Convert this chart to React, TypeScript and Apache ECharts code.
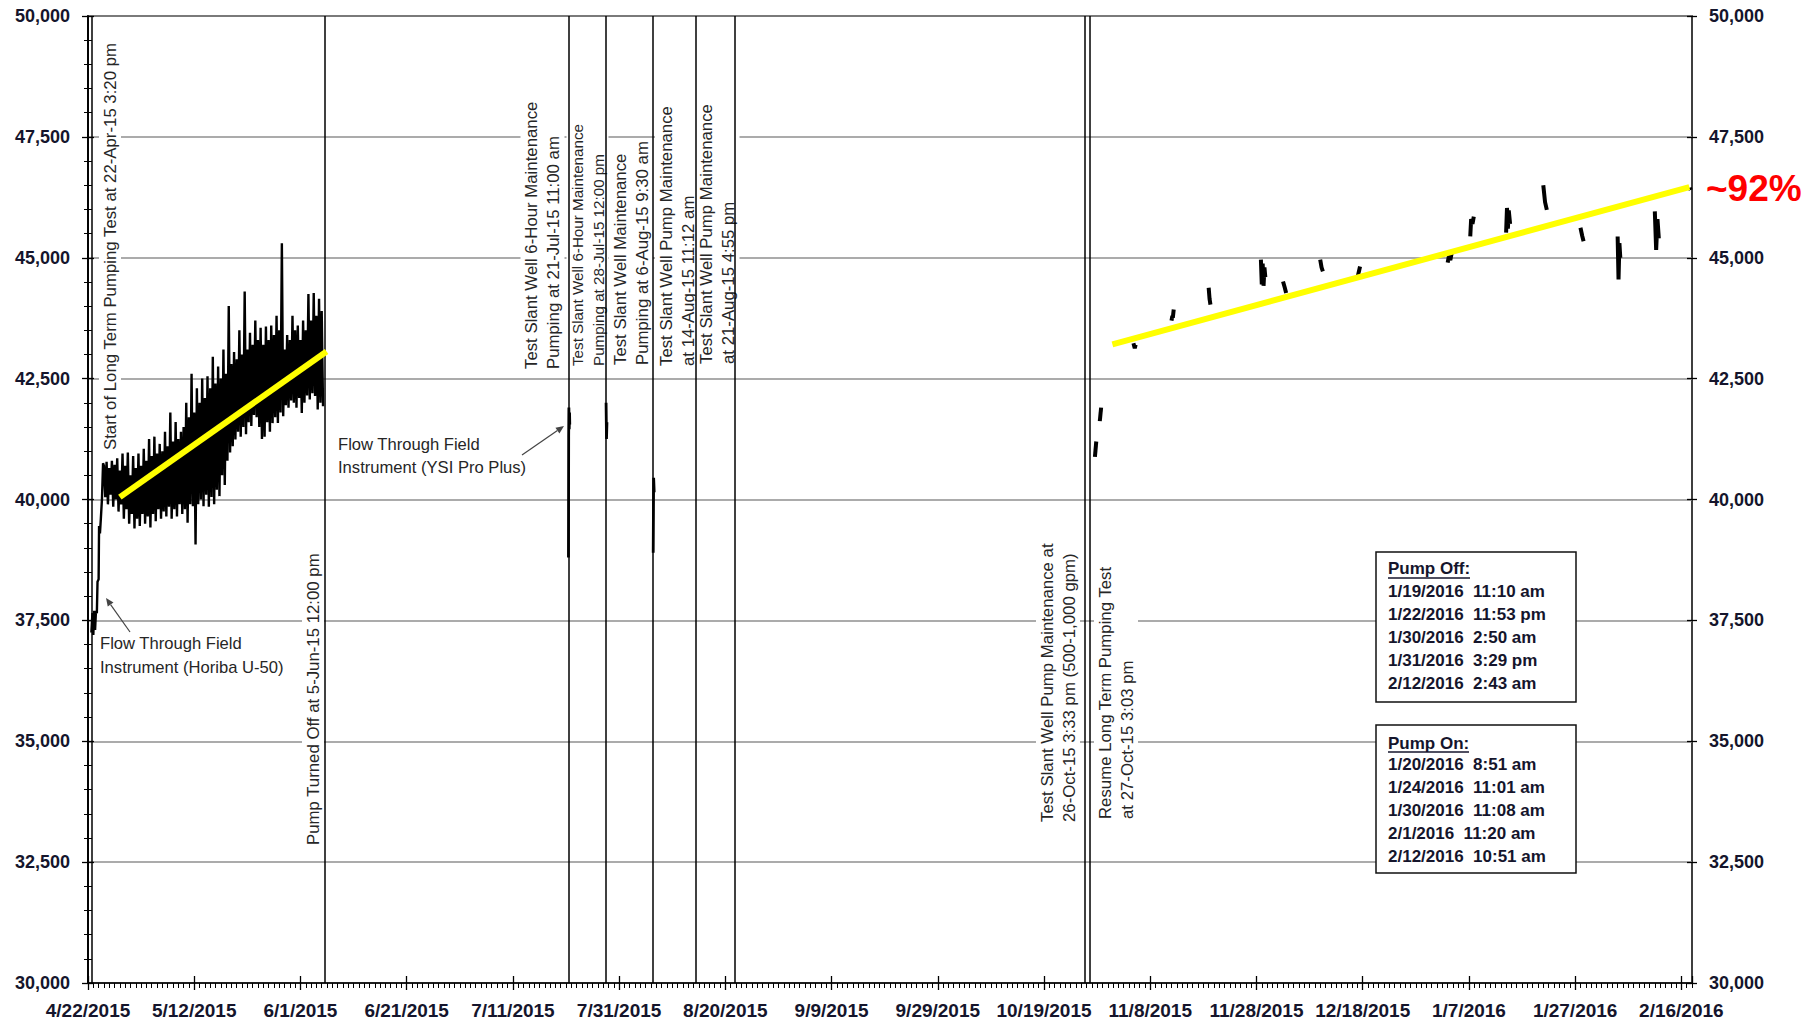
import React, { useEffect, useRef } from 'react';
import * as echarts from 'echarts';

// ---------------- data ----------------
const ORIGIN = '2015-04-22 00:00';
const X_MAX_DAYS = 302;
const X_MAJOR_DAYS = 20;
const Y_MIN = 30000;
const Y_MAX = 50000;
const Y_STEP = 2500;

const EVENT_TIMES = [
  '2015-04-22 15:20',
  '2015-06-05 12:00',
  '2015-07-21 11:00',
  '2015-07-28 12:00',
  '2015-08-06 09:30',
  '2015-08-14 11:12',
  '2015-08-21 16:55',
  '2015-10-26 15:33',
  '2015-10-27 15:03',
];

const STARTUP: [string, number][] = [
  ['2015-04-22 15:20', 37250],
  ['2015-04-22 20:00', 37650],
  ['2015-04-23 00:00', 37200],
  ['2015-04-23 04:00', 37700],
  ['2015-04-23 08:00', 37300],
  ['2015-04-23 12:00', 37700],
  ['2015-04-23 16:00', 37650],
  ['2015-04-23 19:00', 38300],
  ['2015-04-24 00:00', 38350],
  ['2015-04-24 02:00', 39450],
  ['2015-04-24 06:00', 39300],
  ['2015-04-24 10:00', 39600],
  ['2015-04-24 15:00', 40000],
  ['2015-04-24 20:00', 40750],
];

const BAND_START = '2015-04-25 00:00';
const BAND_STEP_DAYS = 0.5;
const BAND_HIGH = [
  40700, 40780, 40650, 40800, 40720, 40850, 40600, 40950, 40700, 40970,
  40500, 40900, 40650, 40950, 40700, 41050, 40800, 41250, 40900, 41300,
  40950, 41150, 41000, 41400, 41100, 41800, 41200, 41600, 41250, 41400,
  41500, 42000, 41700, 42600, 41800, 42300, 42000, 42500, 42100, 42550,
  42300, 42950, 42400, 42750, 42500, 43100, 42600, 44000, 42800, 43050,
  42900, 43500, 43000, 44300, 43100, 43450, 43200, 43700, 43300, 43550,
  43200, 43580, 43300, 43600, 43400, 43800, 43500, 45300, 43100, 43400,
  43300, 43800, 43500, 43600, 43300, 43700, 43500, 44250, 43700, 44270,
  43800, 44150, 43900,
];
const BAND_LOW = [
  40050, 39900, 40100, 39850, 40000, 39750, 39900, 39600, 39800, 39500,
  39700, 39400, 39600, 39450, 39700, 39500, 39650, 39420, 39700, 39550,
  39800, 39600, 39750, 39650, 39850, 39600, 39800, 39650, 39900, 39700,
  39800, 39520, 39900, 39860, 39070, 39900, 40000, 39860, 40100, 39850,
  40050, 39900, 40200, 40070, 40500, 40300, 40800, 40970, 41100, 41240,
  41400, 41300, 41500, 41350, 41600, 41520, 41750, 41700, 41500, 41250,
  41300, 41600, 41400, 41580, 41700, 41580, 41800, 41720, 41950, 41900,
  42050, 42000, 41900, 42100, 41790, 42000, 42150, 42070, 42200, 42140,
  41860, 42000, 41930,
];

const MID_SEGMENTS: [string, number][][] = [
  [['2015-07-21 11:00', 38800], ['2015-07-21 12:00', 41300], ['2015-07-21 13:00', 41900], ['2015-07-21 14:30', 41450], ['2015-07-21 16:00', 41800], ['2015-07-21 17:00', 41550]],
  [['2015-07-28 13:00', 42000], ['2015-07-28 15:00', 41250], ['2015-07-28 17:00', 41600]],
  [['2015-08-06 10:00', 38900], ['2015-08-06 12:00', 40450], ['2015-08-06 14:30', 40150]],
];

const LATE_SEGMENTS: [string, number][][] = [
  [['2015-10-28 14:00', 40880], ['2015-10-28 20:00', 41200]],
  [['2015-10-29 12:00', 41620], ['2015-10-29 18:00', 41900]],
  [['2015-11-04 20:00', 43230], ['2015-11-05 02:00', 43130], ['2015-11-05 06:00', 43200]],
  [['2015-11-12 00:00', 43700], ['2015-11-12 04:00', 43800], ['2015-11-12 06:00', 43760], ['2015-11-12 10:00', 43930]],
  [['2015-11-19 00:00', 44380], ['2015-11-19 04:00', 44150], ['2015-11-19 08:00', 44030]],
  [['2015-11-28 20:00', 44960], ['2015-11-29 00:00', 44450], ['2015-11-29 04:00', 44880], ['2015-11-29 08:00', 44420], ['2015-11-29 12:00', 44800], ['2015-11-29 16:00', 44600]],
  [['2015-12-03 00:00', 44510], ['2015-12-03 08:00', 44380], ['2015-12-03 14:00', 44270]],
  [['2015-12-10 00:00', 44960], ['2015-12-10 06:00', 44800], ['2015-12-10 12:00', 44720]],
  [['2015-12-17 00:00', 44580], ['2015-12-17 06:00', 44700], ['2015-12-17 12:00', 44820]],
  [['2016-01-03 00:00', 44900], ['2016-01-03 06:00', 45050], ['2016-01-03 12:00', 44950], ['2016-01-03 18:00', 45100]],
  [['2016-01-07 06:00', 45440], ['2016-01-07 10:00', 45800], ['2016-01-07 16:00', 45700], ['2016-01-07 22:00', 45850]],
  [['2016-01-14 00:00', 45520], ['2016-01-14 04:00', 46030], ['2016-01-14 08:00', 45600], ['2016-01-14 12:00', 45980], ['2016-01-14 18:00', 45700]],
  [['2016-01-21 00:00', 46500], ['2016-01-21 08:00', 46150], ['2016-01-21 16:00', 45990]],
  [['2016-01-28 00:00', 45620], ['2016-01-28 08:00', 45450], ['2016-01-28 14:00', 45340]],
  [['2016-02-04 00:00', 45440], ['2016-02-04 04:00', 44550], ['2016-02-04 08:00', 45300], ['2016-02-04 12:00', 45000]],
  [['2016-02-11 00:00', 45960], ['2016-02-11 06:00', 45160], ['2016-02-11 12:00', 45800], ['2016-02-11 18:00', 45400]],
  [['2016-02-17 14:00', 46450], ['2016-02-17 18:00', 46400]],
];

const TREND_1: [string, number][] = [['2015-04-28 00:00', 40050], ['2015-06-05 22:00', 43060]];
const TREND_2: [string, number][] = [['2015-10-31 21:00', 43210], ['2016-02-17 12:00', 46460]];

const PUMP_OFF_TIMES = ['1/19/2016  11:10 am', '1/22/2016  11:53 pm', '1/30/2016  2:50 am', '1/31/2016  3:29 pm', '2/12/2016  2:43 am'];
const PUMP_ON_TIMES = ['1/20/2016  8:51 am', '1/24/2016  11:01 am', '1/30/2016  11:08 am', '2/1/2016  11:20 am', '2/12/2016  10:51 am'];

// ---------------- helpers ----------------
const DAY_MS = 86400000;
function parseTime(s: string): number {
  const [d, t] = s.split(' ');
  const [Y, M, D] = d.split('-').map(Number);
  const [h, mi] = (t || '00:00').split(':').map(Number);
  return Date.UTC(Y, M - 1, D, h, mi);
}
const ORIGIN_MS = parseTime(ORIGIN);
const toDay = (s: string) => (parseTime(s) - ORIGIN_MS) / DAY_MS;
const toPts = (arr: [string, number][]) => arr.map(([t, v]) => [toDay(t), v]);

const FONT = '"Liberation Sans", Arial, Helvetica, sans-serif';
const LABEL_COLOR = '#15152c';
const ANNOT_COLOR = '#262626';

function dayLabel(v: number): string {
  const dt = new Date(ORIGIN_MS + Math.round(v) * DAY_MS);
  return `${dt.getUTCMonth() + 1}/${dt.getUTCDate()}/${dt.getUTCFullYear()}`;
}

function rotText(text: string, x: number, y: number, size = 16.8, lh = 22) {
  return {
    type: 'text',
    x,
    y,
    rotation: Math.PI / 2,
    z: 1,
    silent: true,
    style: {
      text,
      fill: ANNOT_COLOR,
      fontSize: size,
      fontFamily: FONT,
      align: 'left',
      textAlign: 'left',
      verticalAlign: 'middle',
      textVerticalAlign: 'middle',
      lineHeight: lh,
      backgroundColor: '#ffffff',
      padding: [0, 3],
    },
  };
}

function arrow(x1: number, y1: number, x2: number, y2: number) {
  const dx = x2 - x1;
  const dy = y2 - y1;
  const len = Math.sqrt(dx * dx + dy * dy);
  const ux = dx / len;
  const uy = dy / len;
  const hl = 8;
  const hw = 3.5;
  const bx = x2 - ux * hl;
  const by = y2 - uy * hl;
  return [
    { type: 'line', z: 1, silent: true, shape: { x1, y1, x2: bx, y2: by }, style: { stroke: '#444', lineWidth: 1.2 } },
    {
      type: 'polygon',
      z: 1,
      silent: true,
      shape: { points: [[x2, y2], [bx - uy * hw, by + ux * hw], [bx + uy * hw, by - ux * hw]] },
      style: { fill: '#444' },
    },
  ];
}

function legendBox(title: string, lines: string[], top: number, height: number, titleY: number, underlineY: number, linesTop: number, underlineW: number) {
  return [
    { type: 'rect', z: 1, silent: true, shape: { x: 1376, y: top, width: 200, height }, style: { fill: '#ffffff', stroke: '#111', lineWidth: 1.5 } },
    {
      type: 'text', z: 2, silent: true, x: 1388, y: titleY,
      style: { text: title, fill: LABEL_COLOR, fontSize: 17, fontWeight: 'bold', fontFamily: FONT, align: 'left', textAlign: 'left', verticalAlign: 'middle', textVerticalAlign: 'middle' },
    },
    { type: 'line', z: 2, silent: true, shape: { x1: 1388, y1: underlineY, x2: 1388 + underlineW, y2: underlineY }, style: { stroke: LABEL_COLOR, lineWidth: 1.5 } },
    {
      type: 'text', z: 2, silent: true, x: 1388, y: linesTop,
      style: { text: lines.join('\n'), fill: LABEL_COLOR, fontSize: 17, fontWeight: 'bold', fontFamily: FONT, align: 'left', textAlign: 'left', verticalAlign: 'top', textVerticalAlign: 'top', lineHeight: 22.8 },
    },
  ];
}

function buildOption() {
  const bandStart = toDay(BAND_START);
  const bandData: number[][] = [];
  for (let i = 0; i < BAND_HIGH.length; i++) {
    const d = bandStart + i * BAND_STEP_DAYS;
    bandData.push([d, BAND_HIGH[i]]);
    bandData.push([d + BAND_STEP_DAYS / 2, BAND_LOW[i]]);
  }
  const mainData = [...toPts(STARTUP), ...bandData];

  const gridW = 1819 - 88 - 127;
  const gridH = 1026 - 16 - 43;

  const yBase = { type: 'value', min: Y_MIN, max: Y_MAX, interval: Y_STEP };
  const xBase = { type: 'value', min: 0, max: X_MAX_DAYS };

  const yLabel = {
    formatter: (v: number) => v.toLocaleString('en-US'),
    color: LABEL_COLOR,
    fontFamily: FONT,
    fontWeight: 'bold',
    fontSize: 18,
  };

  const series: any[] = [
    {
      type: 'line',
      data: mainData,
      symbol: 'none',
      z: 5,
      silent: true,
      lineStyle: { color: '#000', width: 2.4, join: 'miter' },
      markLine: {
        silent: true,
        symbol: ['none', 'none'],
        label: { show: false },
        lineStyle: { color: '#000', width: 1.5, type: 'solid' },
        data: EVENT_TIMES.map((t) => ({ xAxis: toDay(t) })),
      },
    },
    ...MID_SEGMENTS.map((seg) => ({
      type: 'line', data: toPts(seg), symbol: 'none', z: 5, silent: true,
      lineStyle: { color: '#000', width: 2.8 },
    })),
    ...LATE_SEGMENTS.map((seg) => ({
      type: 'line', data: toPts(seg), symbol: 'none', z: 5, silent: true,
      lineStyle: { color: '#000', width: 4 },
    })),
    ...[TREND_1, TREND_2].map((tr) => ({
      type: 'line', data: toPts(tr), symbol: 'none', z: 7, silent: true,
      lineStyle: { color: '#ffff00', width: 6, cap: 'butt' },
    })),
  ];

  const graphic: any[] = [
    rotText('Start of Long Term Pumping Test at 22-Apr-15 3:20 pm', 110, 453),
    rotText('Pump Turned Off at 5-Jun-15 12:00 pm', 313, 848),
    rotText('Test Slant Well 6-Hour Maintenance\nPumping at 21-Jul-15 11:00 am', 542.5, 372),
    rotText('Test Slant Well 6-Hour Maintenance\nPumping at 28-Jul-15 12:00 pm', 587.5, 369, 15.2, 21),
    rotText('Test Slant Well Maintenance\nPumping at 6-Aug-15 9:30 am', 631, 368),
    rotText('Test Slant Well Pump Maintenance\nat 14-Aug-15 11:12 am', 677, 369),
    rotText('Test Slant Well Pump Maintenance\nat 21-Aug-15 4:55 pm', 717.5, 367),
    rotText('Test Slant Well Pump Maintenance at\n26-Oct-15 3:33 pm (500-1,000 gpm)', 1058, 825),
    rotText('Resume Long Term Pumping Test\nat 27-Oct-15 3:03 pm', 1116, 822),
    {
      type: 'text', z: 1, silent: true, x: 100, y: 655,
      style: { text: 'Flow Through Field\nInstrument (Horiba U-50)', fill: ANNOT_COLOR, fontSize: 16.6, fontFamily: FONT, align: 'left', textAlign: 'left', verticalAlign: 'middle', textVerticalAlign: 'middle', lineHeight: 24 },
    },
    {
      type: 'text', z: 1, silent: true, x: 338, y: 455.5,
      style: { text: 'Flow Through Field\nInstrument (YSI Pro Plus)', fill: ANNOT_COLOR, fontSize: 16.6, fontFamily: FONT, align: 'left', textAlign: 'left', verticalAlign: 'middle', textVerticalAlign: 'middle', lineHeight: 23 },
    },
    ...arrow(130, 632, 106, 598),
    ...arrow(522, 455, 564, 426),
    {
      type: 'text', z: 8, silent: true, x: 1706, y: 188,
      style: { text: '~92%', fill: '#ff0000', fontSize: 37, fontWeight: 'bold', fontFamily: FONT, align: 'left', textAlign: 'left', verticalAlign: 'middle', textVerticalAlign: 'middle' },
    },
    ...legendBox('Pump Off:', PUMP_OFF_TIMES, 552, 150, 568, 578, 580.6, 82),
    ...legendBox('Pump On:', PUMP_ON_TIMES, 725, 148, 743, 752, 753.6, 81),
  ];

  return {
    animation: false,
    backgroundColor: '#ffffff',
    grid: {
      left: 88, right: 127, top: 16, bottom: 43,
      show: true, borderColor: '#000', borderWidth: 1.5, backgroundColor: 'transparent',
      containLabel: false, outerBoundsMode: 'none',
    },
    xAxis: [
      {
        ...xBase, position: 'bottom', interval: X_MAJOR_DAYS,
        axisLine: { show: true, lineStyle: { color: '#000', width: 1.5 } },
        axisTick: { show: true, length: 7, lineStyle: { color: '#000', width: 1.3 } },
        splitLine: { show: false },
        axisLabel: { formatter: dayLabel, showMaxLabel: false, margin: 18, color: LABEL_COLOR, fontFamily: FONT, fontWeight: 'bold', fontSize: 19 },
      },
      {
        ...xBase, position: 'bottom', interval: 1,
        axisLine: { show: false },
        axisTick: { show: true, length: 5, lineStyle: { color: '#000', width: 1 } },
        axisLabel: { show: false },
        splitLine: { show: false },
      },
      {
        ...xBase, position: 'top', offset: -gridH, interval: X_MAJOR_DAYS,
        axisLine: { show: false },
        axisTick: { show: true, length: 7, lineStyle: { color: '#000', width: 1.3 } },
        axisLabel: { show: false },
        splitLine: { show: false },
      },
    ],
    yAxis: [
      {
        ...yBase, position: 'left',
        axisLine: { show: true, lineStyle: { color: '#000', width: 1.5 } },
        axisTick: { show: true, length: 6, lineStyle: { color: '#000', width: 1.3 } },
        minorTick: { show: true, splitNumber: 5, length: 4, lineStyle: { color: '#000', width: 1 } },
        splitLine: { show: true, lineStyle: { color: '#8f8f8f', width: 1.5 } },
        minorSplitLine: { show: false },
        axisLabel: { ...yLabel, margin: 18 },
      },
      {
        ...yBase, position: 'right',
        axisLine: { show: true, lineStyle: { color: '#000', width: 1.5 } },
        axisTick: { show: true, length: 6, lineStyle: { color: '#000', width: 1.3 } },
        minorTick: { show: true, splitNumber: 5, length: 4, lineStyle: { color: '#000', width: 1 } },
        splitLine: { show: false },
        axisLabel: { ...yLabel, margin: 17 },
      },
      {
        ...yBase, position: 'right', offset: -gridW,
        axisLine: { show: false },
        axisTick: { show: true, length: 5, lineStyle: { color: '#000', width: 1.3 } },
        axisLabel: { show: false },
        splitLine: { show: false },
      },
      {
        ...yBase, position: 'left', offset: -gridW,
        axisLine: { show: false },
        axisTick: { show: true, length: 5, lineStyle: { color: '#000', width: 1.3 } },
        axisLabel: { show: false },
        splitLine: { show: false },
      },
    ],
    series,
    graphic,
  };
}

export default function App() {
  const ref = useRef<HTMLDivElement>(null);
  useEffect(() => {
    document.body.style.margin = '0';
    if (!ref.current) return;
    const chart = echarts.init(ref.current, undefined, { renderer: 'svg' });
    chart.setOption(buildOption() as any);
    return () => {
      chart.dispose();
    };
  }, []);
  return <div ref={ref} style={{ width: 1819, height: 1026, background: '#fff' }} />;
}
